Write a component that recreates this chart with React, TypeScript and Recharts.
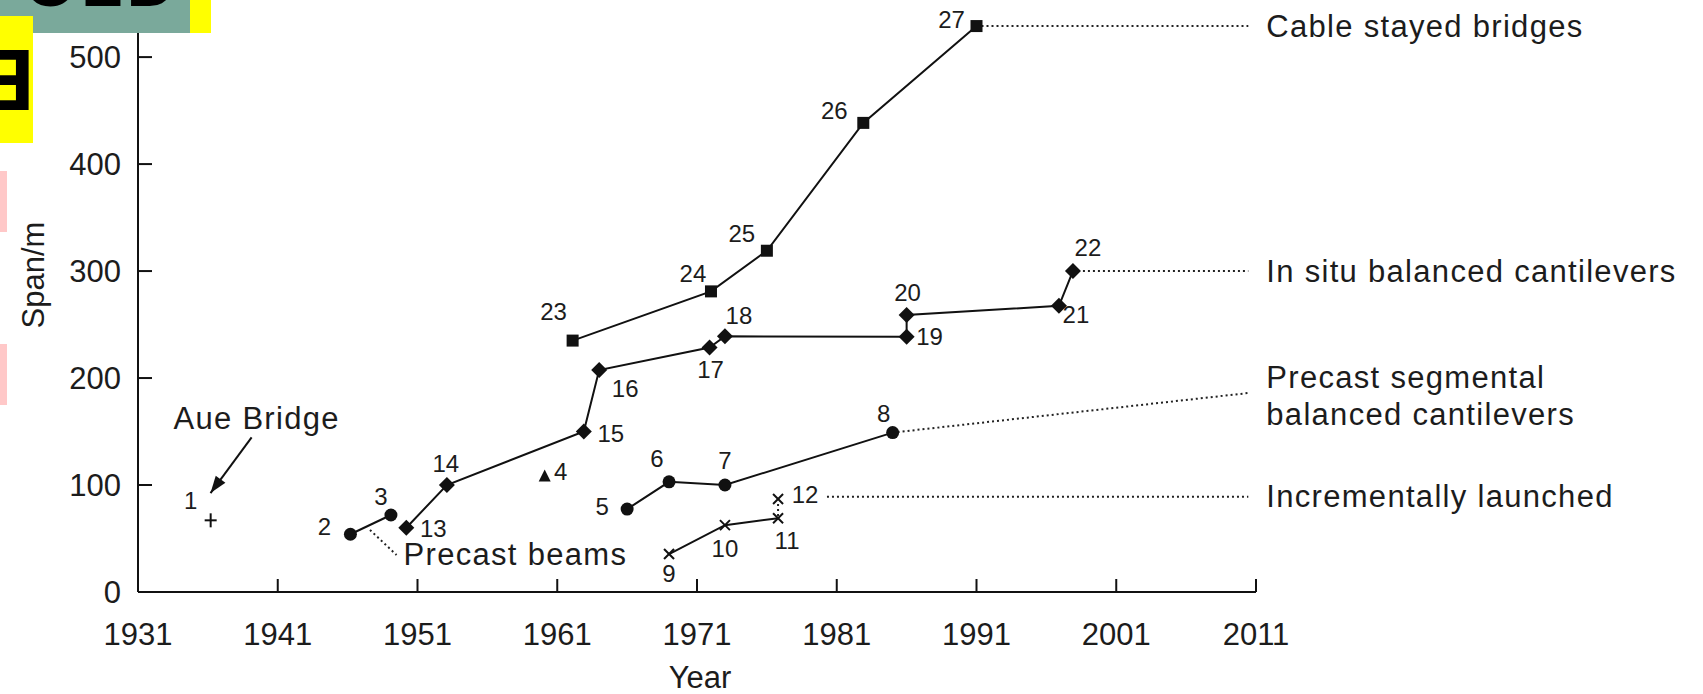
import React from "react";
import { ScatterChart, Scatter, XAxis, YAxis } from "recharts";

type Pt = { id?: number; year: number; span: number; text?: string | string[] };

// record spans (year, span in m), numbered as in the source
const cableStayed: Pt[] = [
  { id: 23, year: 1962.1, span: 235 },
  { id: 24, year: 1972.0, span: 281 },
  { id: 25, year: 1976.0, span: 319 },
  { id: 26, year: 1982.9, span: 438.5 },
  { id: 27, year: 1991.0, span: 529 },
];

const inSituCantilevers: Pt[] = [
  { id: 13, year: 1950.2, span: 60 },
  { id: 14, year: 1953.1, span: 100 },
  { id: 15, year: 1962.9, span: 150 },
  { id: 16, year: 1964.0, span: 207.5 },
  { id: 17, year: 1971.9, span: 228.5 },
  { id: 18, year: 1973.0, span: 239 },
  { id: 19, year: 1986.0, span: 238.5 },
  { id: 20, year: 1986.0, span: 259 },
  { id: 21, year: 1996.9, span: 267.5 },
  { id: 22, year: 1997.9, span: 300 },
];

const precastSegmental: Pt[] = [
  { id: 5, year: 1966.0, span: 77.5 },
  { id: 6, year: 1969.0, span: 103 },
  { id: 7, year: 1973.0, span: 100 },
  { id: 8, year: 1985.0, span: 149 },
];

const precastBeams: Pt[] = [
  { id: 2, year: 1946.2, span: 54 },
  { id: 3, year: 1949.1, span: 72 },
];

const incrementallyLaunched: Pt[] = [
  { id: 9, year: 1969.0, span: 35.5 },
  { id: 10, year: 1973.0, span: 62.5 },
  { id: 11, year: 1976.8, span: 69 },
];
const launchedRecord: Pt[] = [{ id: 12, year: 1976.8, span: 87 }];
const launchedStep: Pt[] = [
  { year: 1976.8, span: 71 },
  { year: 1976.8, span: 85 },
];

const aueBridge: Pt[] = [{ id: 1, year: 1936.2, span: 67 }];
const otherBridge: Pt[] = [{ id: 4, year: 1960.1, span: 108 }];

// dotted leaders to the series names on the right
const cableLeader: Pt[] = [
  { year: 1991.0, span: 529 },
  { year: 2010.45, span: 529, text: "Cable stayed bridges" },
];
const inSituLeader: Pt[] = [
  { year: 1997.9, span: 300 },
  { year: 2010.45, span: 300, text: "In situ balanced cantilevers" },
];
const segmentalLeader: Pt[] = [
  { year: 1985.0, span: 149 },
  { year: 2010.45, span: 186, text: ["Precast segmental", "balanced cantilevers"] },
];
const launchedLeader: Pt[] = [
  { year: 1980.3, span: 89 },
  { year: 2010.45, span: 89, text: "Incrementally launched" },
];
const beamsLeader: Pt[] = [
  { year: 1947.6, span: 58 },
  { year: 1949.5, span: 34.6, text: "Precast beams" },
];
const aueArrow: Pt[] = [
  { year: 1939.13, span: 144.6, text: "Aue Bridge" },
  { year: 1936.19, span: 92.5 },
];

const yearTicks = [1931, 1941, 1951, 1961, 1971, 1981, 1991, 2001, 2011];
const spanTicks = [0, 100, 200, 300, 400, 500];

// where each number sits relative to its marker (px)
const labelOffset: Record<number, [number, number]> = {
  1: [-20, -20], 2: [-26, -8], 3: [-10, -18], 4: [16, -5], 5: [-25, -3],
  6: [-12, -23], 7: [0, -25], 8: [-9, -19], 9: [0, 19], 10: [0, 23],
  11: [9, 22], 12: [27, -4], 13: [27, 1], 14: [-1, -22], 15: [27, 2],
  16: [26, 18], 17: [1, 22], 18: [14, -21], 19: [23, 0], 20: [1, -22],
  21: [17, 9], 22: [15, -24], 23: [-19, -29], 24: [-18, -18], 25: [-25, -17],
  26: [-29, -12], 27: [-25, -7],
};

const INK = "#111";
const TXT = "#1c1c1c";
const FONT = "'Liberation Sans', Arial, Helvetica, sans-serif";
const solid = { stroke: INK, strokeWidth: 2 };
const dotted = { stroke: "#222", strokeWidth: 2, strokeDasharray: "2 3" };

function marker(kind: string, cx: number, cy: number) {
  switch (kind) {
    case "square":
      return <rect x={cx - 6} y={cy - 6} width={12} height={12} fill={INK} />;
    case "diamond":
      return <polygon points={`${cx},${cy - 8} ${cx + 8},${cy} ${cx},${cy + 8} ${cx - 8},${cy}`} fill={INK} />;
    case "circle":
      return <circle cx={cx} cy={cy} r={6.5} fill={INK} />;
    case "cross":
      return (
        <g stroke={INK} strokeWidth={2}>
          <line x1={cx - 5} y1={cy - 5} x2={cx + 5} y2={cy + 5} />
          <line x1={cx - 5} y1={cy + 5} x2={cx + 5} y2={cy - 5} />
        </g>
      );
    case "plus":
      return (
        <g stroke={INK} strokeWidth={2}>
          <line x1={cx - 6} y1={cy} x2={cx + 6} y2={cy} />
          <line x1={cx} y1={cy - 7} x2={cx} y2={cy + 7} />
        </g>
      );
    case "triangle":
      return <polygon points={`${cx},${cy - 7} ${cx + 6},${cy + 5} ${cx - 6},${cy + 5}`} fill={INK} />;
    default:
      return null;
  }
}

const pointShape = (kind: string) => (p: any) => {
  const id = p.payload?.id;
  const off = id != null ? labelOffset[id] ?? [0, -20] : null;
  return (
    <g>
      {marker(kind, p.cx, p.cy)}
      {off && (
        <text
          x={p.cx + off[0]}
          y={p.cy + off[1]}
          textAnchor="middle"
          dominantBaseline="central"
          fontSize={24}
          fontFamily={FONT}
          fill={TXT}
        >
          {id}
        </text>
      )}
    </g>
  );
};

const leaderShape = (dx: number, dy = 0) => (p: any) => {
  const t = p.payload?.text;
  if (!t) return <g />;
  const lines: string[] = Array.isArray(t) ? t : [t];
  const lh = 37;
  const y0 = p.cy + dy - ((lines.length - 1) * lh) / 2;
  return (
    <text fontSize={31} fontFamily={FONT} fill={TXT} letterSpacing={1.3}>
      {lines.map((l, i) => (
        <tspan key={i} x={p.cx + dx} y={y0 + i * lh} dominantBaseline="central">
          {l}
        </tspan>
      ))}
    </text>
  );
};

const arrowShape = (p: any) => {
  const t = p.payload?.text;
  if (t) {
    return (
      <text x={p.cx + 5} y={p.cy - 19} textAnchor="middle" dominantBaseline="central" fontSize={31} fontFamily={FONT} fill={TXT} letterSpacing={1.3}>
        {t}
      </text>
    );
  }
  // arrow head pointing down-left along the leader
  const ux = -0.591, uy = 0.807;
  const bx = p.cx - 17 * ux, by = p.cy - 17 * uy;
  const nx = 0.807 * 6, ny = 0.591 * 6;
  return <polygon points={`${p.cx},${p.cy} ${bx + nx},${by + ny} ${bx - nx},${by - ny}`} fill={INK} />;
};

const XTick = (p: any) => {
  const { x, y, payload } = p;
  return (
    <g>
      <line x1={x} x2={x} y1={y} y2={y - 13} stroke={INK} strokeWidth={2} />
      <text x={x} y={y + 53} textAnchor="middle" fontSize={31} fontFamily={FONT} fill={TXT}>
        {payload.value}
      </text>
    </g>
  );
};

const YTick = (p: any) => {
  const { x, y, payload } = p;
  return (
    <g>
      <line x1={x} x2={x + 14} y1={y} y2={y} stroke={INK} strokeWidth={2} />
      <text x={x - 17} y={y + 11} textAnchor="end" fontSize={31} fontFamily={FONT} fill={TXT}>
        {payload.value}
      </text>
    </g>
  );
};

const XTitle = (p: any) => {
  const vb = p.viewBox || { x: 138, y: 592, width: 1118 };
  return (
    <text x={vb.x + vb.width / 2 + 3} y={vb.y + 85} textAnchor="middle" dominantBaseline="central" fontSize={31} fontFamily={FONT} fill={TXT}>
      Year
    </text>
  );
};

const YTitle = (p: any) => {
  const vb = p.viewBox || { x: 78, y: 25 };
  const cx = vb.x - 45, cy = vb.y + 250;
  return (
    <text x={cx} y={cy} transform={`rotate(-90 ${cx} ${cy})`} textAnchor="middle" dominantBaseline="central" fontSize={31} fontFamily={FONT} fill={TXT}>
      Span/m
    </text>
  );
};

export default function App() {
  return (
    <div style={{ position: "absolute", left: 0, top: 0, width: 1703, height: 694, background: "#fff", overflow: "hidden" }}>
      <ScatterChart width={1703} height={694} margin={{ top: 25, right: 447, bottom: 72, left: 78 }}>
        <XAxis
          type="number"
          dataKey="year"
          domain={[1931, 2011]}
          ticks={yearTicks}
          interval={0}
          height={30}
          tickSize={0}
          tickMargin={0}
          tick={<XTick />}
          axisLine={{ stroke: INK, strokeWidth: 2 }}
          label={XTitle}
        />
        <YAxis
          type="number"
          dataKey="span"
          domain={[0, 530]}
          ticks={spanTicks}
          interval={0}
          width={60}
          tickSize={0}
          tickMargin={0}
          tick={<YTick />}
          axisLine={{ stroke: INK, strokeWidth: 2 }}
          label={YTitle}
        />

        <Scatter data={cableLeader} line={dotted} shape={leaderShape(18)} isAnimationActive={false} />
        <Scatter data={inSituLeader} line={dotted} shape={leaderShape(18)} isAnimationActive={false} />
        <Scatter data={segmentalLeader} line={dotted} shape={leaderShape(18, 3)} isAnimationActive={false} />
        <Scatter data={launchedLeader} line={dotted} shape={leaderShape(18)} isAnimationActive={false} />
        <Scatter data={beamsLeader} line={dotted} shape={leaderShape(7)} isAnimationActive={false} />
        <Scatter data={launchedStep} line={dotted} shape={() => <g />} isAnimationActive={false} />
        <Scatter data={aueArrow} line={solid} shape={arrowShape} isAnimationActive={false} />

        <Scatter data={cableStayed} line={solid} shape={pointShape("square")} isAnimationActive={false} />
        <Scatter data={inSituCantilevers} line={solid} shape={pointShape("diamond")} isAnimationActive={false} />
        <Scatter data={precastSegmental} line={solid} shape={pointShape("circle")} isAnimationActive={false} />
        <Scatter data={precastBeams} line={solid} shape={pointShape("circle")} isAnimationActive={false} />
        <Scatter data={incrementallyLaunched} line={solid} shape={pointShape("cross")} isAnimationActive={false} />
        <Scatter data={launchedRecord} shape={pointShape("cross")} isAnimationActive={false} />
        <Scatter data={aueBridge} shape={pointShape("plus")} isAnimationActive={false} />
        <Scatter data={otherBridge} shape={pointShape("triangle")} isAnimationActive={false} />
      </ScatterChart>

      {/* pasted banner scraps over the top-left corner */}
      <svg style={{ position: "absolute", left: 0, top: 0 }} width={215} height={410}>
        <rect x={0} y={0} width={190} height={33} fill="#7aa99b" />
        <rect x={190} y={0} width={21} height={33} fill="#ffff00" />
        <text x={24} y={6} fontSize={68} fontWeight={700} fontFamily={FONT} fill="#000" letterSpacing={4}>
          OLD
        </text>
        <rect x={0} y={16} width={33} height={127} fill="#ffff00" />
        <text transform="translate(34.4 50) rotate(180)" fontSize={88} fontWeight={700} fontFamily={FONT} fill="#000">
          E
        </text>
        <rect x={0} y={171} width={7} height={61} fill="#ffc8c8" />
        <rect x={0} y={344} width={7} height={61} fill="#ffc8c8" />
      </svg>
    </div>
  );
}
